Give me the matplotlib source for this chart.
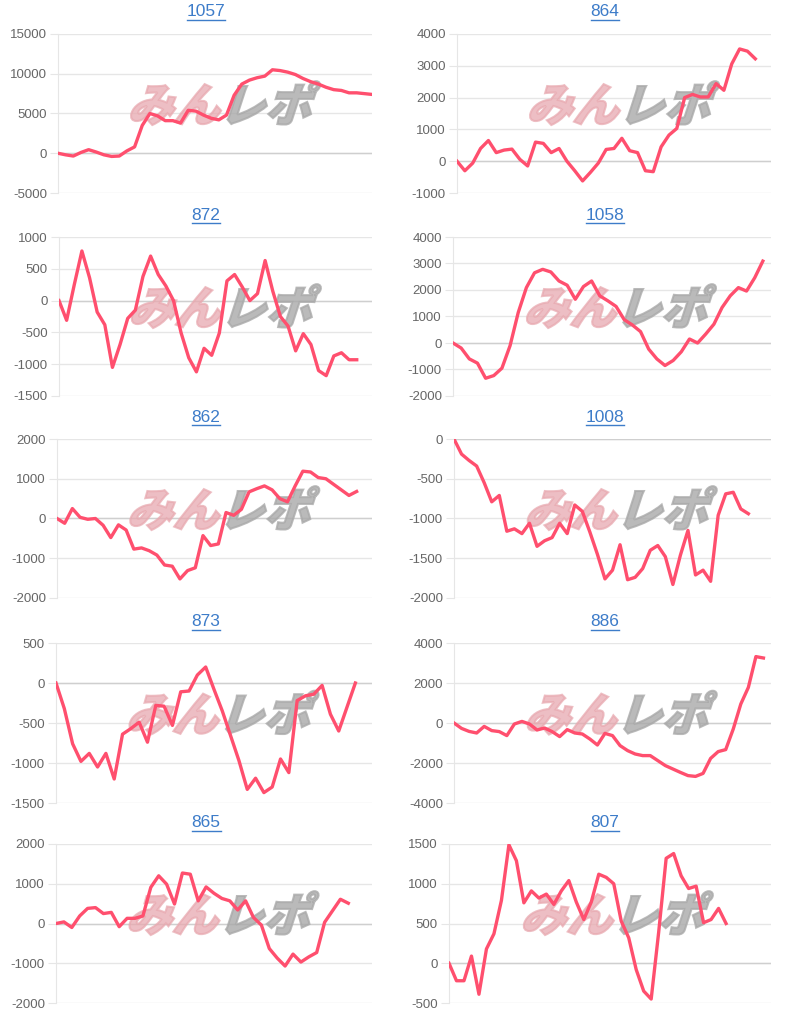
import matplotlib.pyplot as plt
import numpy as np
from matplotlib.textpath import TextPath
from matplotlib.patches import PathPatch
from matplotlib.font_manager import FontProperties
from matplotlib.transforms import Affine2D, ScaledTranslation
from matplotlib.lines import Line2D

plt.rcParams['font.family'] = ['Liberation Sans', 'DejaVu Sans']

# machine numbers (panel titles), left-to-right, top-to-bottom
titles = ['1057', '864', '872', '1058', '862', '1008', '873', '886', '865', '807']
# number of x categories on each chart
slots = [42, 41, 42, 40, 42, 43, 39, 43, 41, 44]
# y range (min, max, step)
yranges = [(-5000, 15000, 5000), (-1000, 4000, 1000), (-1500, 1000, 500),
           (-2000, 4000, 1000), (-2000, 2000, 1000), (-2000, 0, 500),
           (-1500, 500, 500), (-4000, 4000, 2000), (-2000, 2000, 1000),
           (-500, 1500, 500)]

d1057 = [0, -200, -350, 100, 450, 150, -200, -400, -350, 300, 800, 3500, 5000, 4700,
         4100, 4100, 3800, 5400, 5300, 4800, 4400, 4200, 4800, 7300, 8700, 9200,
         9500, 9700, 10500, 10400, 10200, 9900, 9400, 9000, 8700, 8300, 8000, 7900,
         7600, 7600, 7500, 7400]
d864 = [0, -300, -60, 400, 650, 270, 350, 380, 60, -150, 600, 560, 270, 400, 0, -300,
        -620, -350, -60, 370, 400, 720, 330, 270, -300, -330, 450, 820, 1030, 2000,
        2100, 2020, 2020, 2440, 2230, 3060, 3530, 3460, 3220]
d872 = [0, -310, 250, 780, 360, -180, -380, -1050, -690, -280, -150, 380, 700, 410,
        230, 0, -510, -900, -1120, -750, -860, -510, 310, 410, 215, 0, 110, 630, 150,
        -250, -400, -790, -520, -690, -1100, -1180, -870, -820, -930, -930]
d1058 = [0, -190, -600, -760, -1330, -1230, -950, -100, 1150, 2090, 2650, 2780, 2680,
         2340, 2180, 1650, 2130, 2340, 1780, 1590, 1380, 880, 680, 430, -230, -600,
         -850, -660, -330, 150, 0, 340, 710, 1340, 1780, 2090, 1960, 2460, 3090]
d862 = [0, -120, 250, 30, -20, 0, -170, -480, -160, -290, -770, -740, -810, -920,
        -1170, -1200, -1520, -1310, -1240, -430, -680, -640, 150, 80, 230, 670, 750,
        820, 720, 500, 420, 820, 1190, 1170, 1030, 1000, 860, 720, 580, 680]
d1008 = [0, -190, -270, -340, -550, -790, -710, -1160, -1130, -1190, -1060, -1350,
         -1280, -1240, -1060, -1190, -830, -910, -1170, -1450, -1760, -1650, -1330,
         -1770, -1740, -1630, -1400, -1340, -1480, -1830, -1460, -1150, -1710, -1650,
         -1790, -960, -690, -670, -880, -940]
d873 = [0, -320, -760, -980, -880, -1050, -880, -1200, -640, -570, -490, -740, -280,
        -290, -530, -110, -100, 100, 200, -80, -350, -660, -970, -1330, -1190, -1370,
        -1300, -950, -1120, -220, -160, -140, -30, -390, -600, -300, 0]
d886 = [0, -270, -420, -500, -170, -380, -430, -630, -50, 80, -50, -350, -250, -430,
        -680, -330, -500, -550, -800, -1100, -520, -630, -1130, -1380, -1550, -1630,
        -1630, -1880, -2130, -2300, -2470, -2630, -2670, -2520, -1770, -1430, -1330,
        -300, 950, 1780, 3320, 3250]
d865 = [0, 40, -100, 190, 380, 400, 250, 280, -80, 130, 130, 190, 910, 1200, 990, 490,
        1270, 1240, 570, 920, 760, 630, 570, 340, 570, 150, -40, -630, -870, -1070,
        -770, -970, -840, -730, 30, 320, 610, 510]
d807 = [0, -220, -220, 90, -390, 180, 370, 790, 1490, 1290, 760, 910, 820, 870, 740,
        910, 1040, 770, 550, 770, 1120, 1080, 1000, 530, 320, -80, -350, -450, 390,
        1320, 1380, 1100, 940, 970, 510, 550, 690, 500]
series = [d1057, d864, d872, d1058, d862, d1008, d873, d886, d865, d807]

W, H = 800, 1013
fig = plt.figure(figsize=(W / 100, H / 100), dpi=100)

lefts = [58, 457, 59, 453, 57, 454, 56, 454, 56, 449]
rights = [372, 771]
rows = [(34, 193), (237, 396), (439, 598), (643, 803), (844, 1003)]
title_x = [206, 605]

line_col = '#ff4f6e'
grid_col = '#e6e6e6'
title_col = '#3d7cc9'

fp = FontProperties(family='Noto Sans CJK JP', weight='heavy')
p_pink = TextPath((0, 0), 'みん', size=1, prop=fp)
p_gray = TextPath((0, 0), 'レポ', size=1, prop=fp)
gap = p_pink.get_extents().x1 + 0.02

titles_txt = []
for i, name in enumerate(titles):
    r, c = divmod(i, 2)
    top, bot = rows[r]
    l = lefts[i]
    rt = rights[c]
    ax = fig.add_axes([l / W, 1 - bot / H, (rt - l) / W, (bot - top) / H])
    lo, hi, st = yranges[i]
    y = series[i]
    x = np.arange(len(y))
    ax.plot(x, y, color=line_col, lw=2.4, zorder=3, solid_joinstyle='round')
    ax.set_xlim(0, slots[i] - 1)
    ax.set_ylim(lo, hi)
    ticks = np.arange(lo, hi + st, st)
    ax.set_yticks(ticks)
    ax.set_yticklabels([str(int(t)) for t in ticks])
    ax.set_xticks([])
    ax.grid(axis='y', color=grid_col, lw=1)
    if lo < 0 <= hi:
        ax.axhline(0, color='#cfcfcf', lw=1, zorder=1)
    ax.tick_params(axis='y', length=6, color=grid_col, labelsize=9.5,
                   labelcolor='#666666', pad=2)
    for s in ['top', 'right', 'bottom']:
        ax.spines[s].set_visible(False)
    ax.spines['left'].set_color(grid_col)
    ax.set_axisbelow(True)

    # watermark
    base = Affine2D().skew_deg(18, 0).scale(0.46) + fig.dpi_scale_trans
    tr1 = base + ScaledTranslation(0.22, 0.45, ax.transAxes)
    ax.add_patch(PathPatch(p_pink, transform=tr1, fc='#e8a9b0', ec='#e8a9b0',
                           lw=1.5, alpha=0.75, zorder=2, clip_on=False))
    tr2 = Affine2D().translate(gap, 0) + tr1
    ax.add_patch(PathPatch(p_gray, transform=tr2, fc='#a9a9a9', ec='#a9a9a9',
                           lw=1.5, alpha=0.8, zorder=2, clip_on=False))

    t = fig.text(title_x[c] / W, 1 - (top - 22) / H, name, ha='center',
                 va='center', fontsize=12.5, color=title_col)
    titles_txt.append(t)

fig.canvas.draw()
for t in titles_txt:
    bb = t.get_window_extent()
    yline = (bb.y0 - 1) / H
    fig.add_artist(Line2D([bb.x0 / W, bb.x1 / W], [yline, yline],
                          transform=fig.transFigure, color=title_col, lw=1))

fig.savefig('out.png', dpi=100, facecolor='white')
